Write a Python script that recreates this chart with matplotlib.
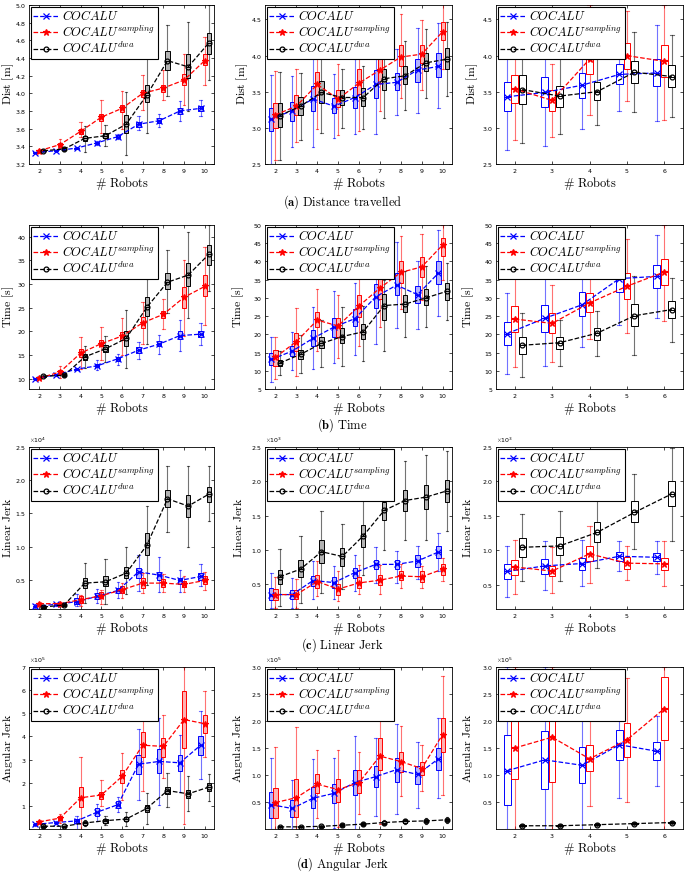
import matplotlib.pyplot as plt
import numpy as np

plt.rcParams['mathtext.fontset'] = 'cm'
plt.rcParams['axes.formatter.use_mathtext'] = True

# number of robots per column
robots_a = [2, 3, 4, 5, 6, 7, 8, 9, 10]
robots_c = [2, 3, 4, 5, 6]

labels = [r'$COCALU$', r'$COCALU^{sampling}$', r'$COCALU^{dwa}$']

# each entry: (whisker low, q1, median, q3, whisker high)
# ---- distance travelled ----
dist1_blue = [(3.32, 3.325, 3.33, 3.335, 3.34), (3.34, 3.345, 3.35, 3.355, 3.36),
              (3.37, 3.375, 3.38, 3.385, 3.39), (3.42, 3.43, 3.44, 3.45, 3.46),
              (3.48, 3.49, 3.51, 3.53, 3.54), (3.58, 3.62, 3.65, 3.68, 3.74),
              (3.62, 3.66, 3.69, 3.72, 3.77), (3.69, 3.77, 3.80, 3.83, 3.91),
              (3.74, 3.80, 3.83, 3.86, 3.92)]
dist1_red = [(3.33, 3.34, 3.35, 3.36, 3.37), (3.38, 3.40, 3.42, 3.44, 3.48),
             (3.50, 3.54, 3.57, 3.60, 3.68), (3.55, 3.69, 3.73, 3.77, 3.92),
             (3.60, 3.79, 3.83, 3.87, 4.03), (3.81, 3.96, 4.00, 4.04, 4.21),
             (3.92, 4.02, 4.06, 4.09, 4.26), (3.87, 4.10, 4.15, 4.22, 4.44),
             (4.10, 4.32, 4.37, 4.44, 4.64)]
dist1_black = [(3.34, 3.345, 3.35, 3.355, 3.36), (3.35, 3.36, 3.37, 3.38, 3.39),
               (3.34, 3.46, 3.49, 3.52, 3.63), (3.40, 3.49, 3.52, 3.55, 3.64),
               (3.30, 3.55, 3.65, 3.75, 4.02), (3.55, 3.90, 3.98, 4.10, 4.40),
               (3.97, 4.26, 4.37, 4.48, 4.77), (3.80, 4.17, 4.30, 4.44, 4.81),
               (4.15, 4.45, 4.57, 4.68, 5.00)]

dist2_blue = [(2.50, 2.95, 3.12, 3.28, 3.73), (2.74, 3.10, 3.24, 3.36, 3.72),
              (2.74, 3.23, 3.40, 3.58, 4.08), (2.86, 3.20, 3.30, 3.41, 3.75),
              (2.91, 3.28, 3.42, 3.56, 3.95), (2.92, 3.42, 3.60, 3.80, 4.20),
              (3.18, 3.52, 3.63, 3.76, 4.09), (3.20, 3.63, 3.80, 3.95, 4.38),
              (3.27, 3.70, 3.85, 4.03, 4.45)]
dist2_red = [(2.55, 3.00, 3.18, 3.35, 3.78), (2.80, 3.18, 3.30, 3.45, 3.81),
             (2.98, 3.45, 3.60, 3.77, 4.30), (2.90, 3.29, 3.40, 3.52, 3.88),
             (2.95, 3.47, 3.62, 3.82, 4.20), (3.24, 3.62, 3.80, 3.96, 4.35),
             (3.41, 3.85, 3.98, 4.15, 4.57), (3.52, 3.90, 4.02, 4.15, 4.49),
             (3.82, 4.22, 4.33, 4.47, 4.75)]
dist2_black = [(2.56, 3.01, 3.17, 3.34, 3.77), (2.83, 3.18, 3.30, 3.43, 3.76),
               (2.93, 3.35, 3.49, 3.65, 4.20), (3.00, 3.32, 3.42, 3.53, 3.82),
               (2.98, 3.30, 3.42, 3.55, 3.85), (3.13, 3.53, 3.68, 3.82, 4.30),
               (3.25, 3.60, 3.72, 3.86, 4.20), (3.41, 3.78, 3.90, 4.03, 4.37),
               (3.44, 3.82, 3.95, 4.10, 4.46)]

dist3_blue = [(2.70, 3.24, 3.43, 3.64, 4.20), (2.75, 3.29, 3.49, 3.70, 4.20),
              (2.98, 3.42, 3.59, 3.76, 4.30), (3.24, 3.61, 3.74, 3.88, 4.25),
              (3.10, 3.58, 3.76, 3.95, 4.43)]
dist3_red = [(2.83, 3.35, 3.54, 3.73, 4.30), (2.87, 3.24, 3.38, 3.52, 3.89),
             (3.18, 3.75, 3.95, 4.20, 4.70), (3.37, 3.82, 4.00, 4.18, 4.62),
             (3.11, 3.70, 3.92, 4.15, 4.70)]
dist3_black = [(2.79, 3.33, 3.53, 3.73, 4.30), (2.92, 3.29, 3.44, 3.58, 4.10),
               (3.04, 3.38, 3.50, 3.63, 4.00), (3.22, 3.62, 3.77, 3.93, 4.33),
               (3.15, 3.56, 3.71, 3.87, 4.29)]

# ---- time ----
time1_blue = [(9.8, 9.9, 10.0, 10.1, 10.2), (10.6, 10.7, 10.8, 10.9, 11.0),
              (11.8, 11.9, 12.0, 12.1, 12.2), (11.8, 12.4, 12.7, 13.0, 13.9),
              (12.8, 13.8, 14.2, 14.6, 15.2), (14.2, 15.4, 16.0, 16.6, 17.8),
              (15.2, 16.8, 17.3, 18.0, 19.3), (15.9, 18.4, 19.1, 20.0, 22.5),
              (17.1, 18.7, 19.4, 20.0, 21.7)]
time1_red = [(9.9, 10.0, 10.1, 10.2, 10.3), (10.2, 10.9, 11.4, 11.8, 12.7),
             (12.0, 14.6, 15.4, 16.2, 18.7), (14.0, 16.8, 17.4, 18.2, 20.9),
             (15.0, 18.2, 19.0, 19.8, 22.9), (17.3, 20.7, 21.8, 23.0, 26.3),
             (20.6, 22.9, 23.6, 24.4, 26.8), (19.1, 24.9, 27.2, 29.4, 35.1),
             (21.4, 27.4, 29.5, 31.9, 37.8)]
time1_black = [(10.3, 10.4, 10.5, 10.6, 10.7), (10.3, 10.5, 10.7, 11.0, 11.3),
               (12.2, 14.0, 14.6, 15.3, 17.0), (13.6, 15.7, 16.3, 17.2, 19.1),
               (12.3, 16.9, 18.5, 20.1, 24.6), (17.4, 23.2, 25.1, 27.2, 31.0),
               (23.8, 28.9, 30.4, 32.3, 37.3), (22.8, 29.6, 31.9, 34.4, 41.1),
               (28.6, 34.1, 36.3, 38.3, 42.5)]

time2_blue = [(6.9, 11.5, 13.1, 14.9, 19.3), (10.2, 14.0, 15.4, 16.8, 20.7),
              (10.5, 16.8, 18.9, 21.2, 27.4), (12.0, 19.3, 22.0, 24.4, 31.8),
              (14.4, 22.2, 24.3, 27.0, 34.0), (17.4, 27.2, 30.3, 33.9, 38.0),
              (21.7, 30.9, 33.5, 36.7, 45.2), (21.5, 28.6, 30.9, 33.2, 40.0),
              (24.9, 33.7, 36.8, 40.0, 48.5)]
time2_red = [(7.8, 11.2, 13.7, 15.6, 19.4), (8.6, 15.3, 18.0, 20.5, 27.3),
             (15.3, 22.1, 23.9, 26.2, 32.5), (13.6, 19.2, 22.3, 24.5, 30.7),
             (16.8, 24.8, 27.8, 30.9, 36.3), (22.0, 29.7, 32.7, 35.5, 38.7),
             (27.0, 34.2, 37.0, 40.0, 47.0), (29.5, 35.8, 38.5, 41.1, 47.6),
             (34.8, 41.5, 44.5, 46.5, 50.0)]
time2_black = [(8.8, 11.2, 12.1, 13.0, 15.4), (9.5, 13.2, 14.5, 15.8, 19.7),
               (11.0, 16.2, 17.5, 19.3, 23.8), (11.4, 17.5, 19.4, 21.7, 27.5),
               (12.6, 18.6, 20.7, 22.8, 27.9), (15.3, 24.0, 27.9, 31.0, 35.0),
               (19.3, 26.0, 28.3, 30.9, 37.3), (21.9, 28.0, 30.0, 32.4, 38.7),
               (23.8, 29.5, 31.8, 34.0, 39.6)]

time3_blue = [(9.1, 17.2, 20.2, 23.3, 31.4), (11.2, 20.7, 24.4, 28.0, 38.0),
              (16.6, 25.0, 28.1, 31.5, 40.0), (22.5, 31.5, 35.3, 38.6, 48.0),
              (24.4, 32.6, 35.9, 39.0, 47.3)]
time3_red = [(11.0, 20.7, 24.2, 27.9, 38.0), (12.5, 20.3, 23.0, 25.8, 33.5),
             (18.7, 26.0, 28.6, 31.4, 40.0), (20.3, 29.6, 33.2, 36.8, 46.2),
             (23.7, 33.4, 37.1, 40.7, 50.0)]
time3_black = [(8.3, 14.6, 17.0, 19.4, 25.9), (11.4, 16.0, 17.7, 19.3, 24.0),
               (14.1, 18.5, 20.3, 21.8, 26.4), (14.4, 22.3, 25.1, 28.2, 36.0),
               (18.0, 24.4, 26.8, 29.2, 35.5)]

# ---- linear jerk ----
lin1_blue = [(800, 950, 1000, 1080, 1300), (1100, 1200, 1300, 1400, 1500),
             (1000, 1400, 1700, 2200, 2800), (1500, 2100, 2500, 3000, 3600),
             (2200, 3000, 3400, 3800, 4600), (3300, 5300, 6200, 6800, 8800),
             (3100, 5000, 5700, 6200, 8400), (3200, 4400, 4900, 5300, 6500),
             (4000, 4900, 5500, 6000, 7400)]
lin1_red = [(1000, 1200, 1400, 1500, 1700), (1100, 1250, 1400, 1550, 1700),
            (1000, 1500, 2000, 2500, 2700), (1300, 2200, 2600, 3100, 3500),
            (2200, 3000, 3500, 4000, 4500), (3000, 3800, 4500, 5200, 6000),
            (3100, 3900, 4500, 5100, 5900), (3200, 3900, 4300, 4800, 5600),
            (3400, 4300, 4900, 5500, 6200)]
lin1_black = [(700, 800, 900, 1000, 1100), (1000, 1100, 1200, 1300, 1400),
              (1500, 3800, 4500, 5300, 7500), (1300, 4000, 4700, 5500, 8100),
              (2800, 5200, 6000, 7000, 10000), (4200, 8800, 10200, 12000, 16100),
              (12200, 16000, 17200, 18500, 22200), (10000, 14500, 16100, 17700, 22200),
              (13800, 16700, 17900, 19000, 22100)]

lin2_blue = [(150, 270, 350, 440, 660), (150, 290, 350, 420, 590),
             (280, 470, 555, 620, 840), (290, 450, 525, 600, 770),
             (400, 590, 670, 740, 930), (520, 720, 790, 860, 1050),
             (520, 720, 790, 860, 980), (570, 750, 840, 920, 1060),
             (690, 880, 970, 1060, 1250)]
lin2_red = [(150, 270, 350, 430, 610), (150, 280, 350, 420, 570),
            (330, 450, 540, 630, 840), (260, 350, 430, 500, 690),
            (360, 450, 520, 600, 780), (360, 490, 560, 640, 780),
            (450, 560, 620, 690, 800), (440, 530, 610, 690, 770),
            (550, 640, 720, 790, 880)]
lin2_black = [(190, 500, 610, 710, 1010), (230, 600, 720, 860, 1210),
              (380, 810, 975, 1140, 1570), (430, 770, 905, 1030, 1380),
              (640, 1040, 1205, 1360, 1780), (1000, 1440, 1575, 1700, 2000),
              (1150, 1570, 1720, 1870, 2290), (1150, 1600, 1770, 1940, 2380),
              (1270, 1700, 1860, 2020, 2440)]

lin3_blue = [(330, 590, 695, 800, 1060), (420, 660, 775, 880, 1130),
             (480, 720, 810, 890, 1150), (700, 850, 915, 980, 1140),
             (660, 850, 900, 960, 1130)]
lin3_red = [(370, 650, 760, 860, 1150), (380, 630, 700, 780, 1050),
            (530, 840, 950, 1060, 1360), (570, 730, 815, 900, 1060),
            (480, 710, 805, 890, 1130)]
lin3_black = [(560, 910, 1045, 1180, 1530), (560, 930, 1065, 1200, 1570),
              (740, 1120, 1260, 1410, 1750), (1020, 1410, 1550, 1720, 2110),
              (1140, 1640, 1820, 2000, 2480)]

# ---- angular jerk ----
ang1_blue = [(0.15e5, 0.18e5, 0.20e5, 0.22e5, 0.26e5), (0.20e5, 0.25e5, 0.28e5, 0.31e5, 0.35e5),
             (0.00e5, 0.25e5, 0.35e5, 0.45e5, 0.55e5), (0.35e5, 0.58e5, 0.73e5, 0.92e5, 1.10e5),
             (0.72e5, 0.90e5, 1.05e5, 1.20e5, 1.40e5), (1.27e5, 2.36e5, 2.80e5, 3.20e5, 4.30e5),
             (1.03e5, 2.40e5, 2.92e5, 3.45e5, 4.80e5), (1.60e5, 2.50e5, 2.86e5, 3.20e5, 4.07e5),
             (2.14e5, 3.20e5, 3.62e5, 4.03e5, 5.10e5)]
ang1_red = [(0.25e5, 0.28e5, 0.31e5, 0.34e5, 0.38e5), (0.25e5, 0.38e5, 0.47e5, 0.56e5, 0.65e5),
            (0.02e5, 0.93e5, 1.35e5, 1.82e5, 3.10e5), (1.00e5, 1.28e5, 1.47e5, 1.62e5, 2.12e5),
            (1.27e5, 2.00e5, 2.27e5, 2.55e5, 3.27e5), (1.65e5, 3.10e5, 3.62e5, 4.17e5, 4.90e5),
            (2.20e5, 3.10e5, 3.57e5, 3.95e5, 4.93e5), (0.23e5, 3.50e5, 4.73e5, 5.95e5, 7.00e5),
            (3.10e5, 4.15e5, 4.55e5, 4.93e5, 5.98e5)]
ang1_black = [(0.06e5, 0.10e5, 0.12e5, 0.14e5, 0.18e5), (0.08e5, 0.10e5, 0.12e5, 0.13e5, 0.15e5),
              (0.12e5, 0.19e5, 0.26e5, 0.32e5, 0.40e5), (0.18e5, 0.28e5, 0.36e5, 0.44e5, 0.55e5),
              (0.12e5, 0.35e5, 0.43e5, 0.52e5, 0.75e5), (0.20e5, 0.72e5, 0.89e5, 1.05e5, 1.57e5),
              (0.93e5, 1.50e5, 1.66e5, 1.82e5, 2.42e5), (0.78e5, 1.35e5, 1.52e5, 1.70e5, 2.27e5),
              (1.20e5, 1.65e5, 1.81e5, 1.97e5, 2.37e5)]

ang2_blue = [(0.00e5, 0.20e5, 0.45e5, 0.68e5, 1.32e5), (0.00e5, 0.23e5, 0.38e5, 0.53e5, 0.91e5),
             (0.00e5, 0.38e5, 0.57e5, 0.77e5, 1.29e5), (0.02e5, 0.48e5, 0.66e5, 0.84e5, 1.31e5),
             (0.00e5, 0.63e5, 0.86e5, 1.10e5, 1.73e5), (0.25e5, 0.78e5, 0.97e5, 1.17e5, 1.68e5),
             (0.27e5, 0.87e5, 1.10e5, 1.32e5, 1.94e5), (0.39e5, 0.84e5, 1.01e5, 1.17e5, 1.62e5),
             (0.57e5, 1.10e5, 1.30e5, 1.50e5, 2.05e5)]
ang2_red = [(0.00e5, 0.20e5, 0.49e5, 0.76e5, 1.52e5), (0.00e5, 0.22e5, 0.58e5, 0.93e5, 1.88e5),
            (0.20e5, 0.66e5, 0.83e5, 1.02e5, 1.47e5), (0.04e5, 0.50e5, 0.73e5, 0.92e5, 1.46e5),
            (0.28e5, 0.67e5, 0.86e5, 1.10e5, 1.43e5), (0.10e5, 1.10e5, 1.35e5, 1.69e5, 2.10e5),
            (0.62e5, 1.05e5, 1.25e5, 1.43e5, 1.90e5), (0.70e5, 1.00e5, 1.12e5, 1.24e5, 1.55e5),
            (0.63e5, 1.43e5, 1.75e5, 2.05e5, 2.83e5)]
ang2_black = [(0.02e5, 0.03e5, 0.04e5, 0.05e5, 0.06e5), (0.02e5, 0.03e5, 0.04e5, 0.05e5, 0.06e5),
              (0.02e5, 0.04e5, 0.05e5, 0.06e5, 0.08e5), (0.03e5, 0.055e5, 0.07e5, 0.085e5, 0.11e5),
              (0.05e5, 0.075e5, 0.09e5, 0.105e5, 0.13e5), (0.07e5, 0.10e5, 0.12e5, 0.14e5, 0.17e5),
              (0.09e5, 0.12e5, 0.14e5, 0.16e5, 0.19e5), (0.10e5, 0.13e5, 0.15e5, 0.17e5, 0.20e5),
              (0.12e5, 0.15e5, 0.17e5, 0.19e5, 0.22e5)]

ang3_blue = [(0.00e5, 0.44e5, 1.08e5, 1.74e5, 3.00e5), (0.00e5, 0.75e5, 1.28e5, 1.82e5, 3.00e5),
             (0.00e5, 0.85e5, 1.18e5, 1.52e5, 2.30e5), (0.57e5, 1.28e5, 1.56e5, 1.83e5, 2.56e5),
             (0.80e5, 1.27e5, 1.44e5, 1.62e5, 2.10e5)]
ang3_red = [(0.00e5, 0.93e5, 1.50e5, 2.30e5, 3.00e5), (0.00e5, 0.87e5, 1.70e5, 2.30e5, 3.00e5),
            (0.43e5, 1.07e5, 1.30e5, 1.56e5, 2.30e5), (0.50e5, 1.33e5, 1.65e5, 1.97e5, 2.80e5),
            (0.00e5, 1.64e5, 2.23e5, 2.82e5, 3.00e5)]
ang3_black = [(0.03e5, 0.05e5, 0.06e5, 0.07e5, 0.09e5), (0.03e5, 0.05e5, 0.06e5, 0.07e5, 0.09e5),
              (0.05e5, 0.07e5, 0.08e5, 0.09e5, 0.11e5), (0.07e5, 0.09e5, 0.10e5, 0.11e5, 0.13e5),
              (0.09e5, 0.11e5, 0.12e5, 0.13e5, 0.15e5)]

# axis limits / ticks
dist_ylims = [(3.2, 5.0), (2.5, 4.7), (2.5, 4.7)]
dist_ticks = [np.arange(3.2, 5.01, 0.2), [2.5, 3, 3.5, 4, 4.5], [2.5, 3, 3.5, 4, 4.5]]
time_ylims = [(7.8, 42.5), (5, 50), (5, 50)]
time_ticks = [[10, 15, 20, 25, 30, 35, 40], np.arange(5, 51, 5), np.arange(5, 51, 5)]
lin_ylims = [(600, 25000), (140, 2500), (150, 2500)]
lin_ticks = [[5000, 10000, 15000, 20000, 25000], [500, 1000, 1500, 2000, 2500], [500, 1000, 1500, 2000, 2500]]
ang_ylims = [(0, 7e5), (0, 3e5), (0, 3e5)]
ang_ticks = [[1e5, 2e5, 3e5, 4e5, 5e5, 6e5, 7e5], [0.5e5, 1e5, 1.5e5, 2e5, 2.5e5, 3e5], [0.5e5, 1e5, 1.5e5, 2e5, 2.5e5, 3e5]]

rows = [
    ('Dist\\ [m]', [dist1_blue, dist2_blue, dist3_blue], [dist1_red, dist2_red, dist3_red],
     [dist1_black, dist2_black, dist3_black], dist_ylims, dist_ticks, False),
    ('Time\\ [s]', [time1_blue, time2_blue, time3_blue], [time1_red, time2_red, time3_red],
     [time1_black, time2_black, time3_black], time_ylims, time_ticks, False),
    ('Linear\\ Jerk', [lin1_blue, lin2_blue, lin3_blue], [lin1_red, lin2_red, lin3_red],
     [lin1_black, lin2_black, lin3_black], lin_ylims, lin_ticks, True),
    ('Angular\\ Jerk', [ang1_blue, ang2_blue, ang3_blue], [ang1_red, ang2_red, ang3_red],
     [ang1_black, ang2_black, ang3_black], ang_ylims, ang_ticks, True),
]
captions = [r'$\mathbf{(a)}\ \mathrm{Distance\ travelled}$', r'$\mathbf{(b)}\ \mathrm{Time}$',
            r'$\mathbf{(c)}\ \mathrm{Linear\ Jerk}$', r'$\mathbf{(d)}\ \mathrm{Angular\ Jerk}$']

W, H = 685, 872
fig = plt.figure(figsize=(W / 100, H / 100), dpi=100)

col_px = [(29, 214), (265, 452), (496, 683)]
row_px = [(5, 164), (225, 389), (447, 609), (667, 829)]
ylabel_px = [[8, 242, 472], [8, 238, 468], [8, 238, 467], [8, 238, 468]]
caption_y = [202, 425, 645, 864]

colors = ['#0000ff', '#ff0000', '#000000']
markers = ['x', '*', 'o']
offsets = [-0.2, 0.0, 0.2]


def draw_panel(ax, robots, series, box_w, filled):
    for data, color, marker, label, off in zip(series, colors, markers, labels, offsets):
        pos = np.array(robots) + off
        stats = [dict(whislo=d[0], q1=d[1], med=d[2], q3=d[3], whishi=d[4]) for d in data]
        face = (color, 0.3) if filled else 'none'
        ax.bxp(stats, positions=pos, widths=box_w, capwidths=box_w * 0.6, patch_artist=True,
               showfliers=False, manage_ticks=False,
               boxprops=dict(facecolor=face, edgecolor=color, linewidth=0.7),
               whiskerprops=dict(color=color, linewidth=0.8, alpha=0.55),
               capprops=dict(color=color, linewidth=0.8, alpha=0.55),
               medianprops=dict(color=color, linewidth=0.7))
        ax.plot(pos, [d[2] for d in data], ls='--', lw=0.9, color=color, marker=marker,
                ms=4.5 if marker != 'o' else 3.5, mfc='none' if marker == 'o' else color,
                mew=0.9, label=label, zorder=5)


for r, (ylab, blues, reds, blacks, ylims, yticks, sci) in enumerate(rows):
    t, b = row_px[r]
    for c in range(3):
        l, rr = col_px[c]
        ax = fig.add_axes([l / W, 1 - b / H, (rr - l) / W, (b - t) / H])
        robots = robots_c if c == 2 else robots_a
        draw_panel(ax, robots, [blues[c], reds[c], blacks[c]],
                   0.18 if c == 2 else 0.2, c != 2)
        ax.set_xlim(1.5, 6.5 if c == 2 else 10.45)
        ax.set_ylim(*ylims[c])
        ax.set_xticks(robots)
        ax.set_yticks(yticks[c])
        if sci:
            ax.ticklabel_format(axis='y', style='sci', scilimits=(0, 0))
            ax.yaxis.get_offset_text().set_fontsize(4.5)
        ax.tick_params(direction='in', top=True, right=True, labelsize=4.5, length=2, width=0.5, pad=2)
        for s in ax.spines.values():
            s.set_linewidth(0.6)
        ax.set_ylabel('$\\mathrm{' + ylab + '}$', fontsize=8.5)
        ax.yaxis.set_label_coords((ylabel_px[r][c] - l) / (rr - l), 0.5)
        ax.yaxis.label.set_verticalalignment('center')
        ax.set_xlabel(r'$\#\ \mathrm{Robots}$', fontsize=9, labelpad=0)
        leg = ax.legend(loc='upper left', fontsize=9, handlelength=2.0, handletextpad=0.3,
                        borderaxespad=0.15, borderpad=0.2, labelspacing=0.1,
                        fancybox=False, framealpha=1, edgecolor='black')
        leg.get_frame().set_linewidth(0.8)
        leg.set_zorder(10)
    fig.text(0.5, 1 - caption_y[r] / H, captions[r], ha='center', va='center', fontsize=9)

fig.savefig('out.png', dpi=100)
